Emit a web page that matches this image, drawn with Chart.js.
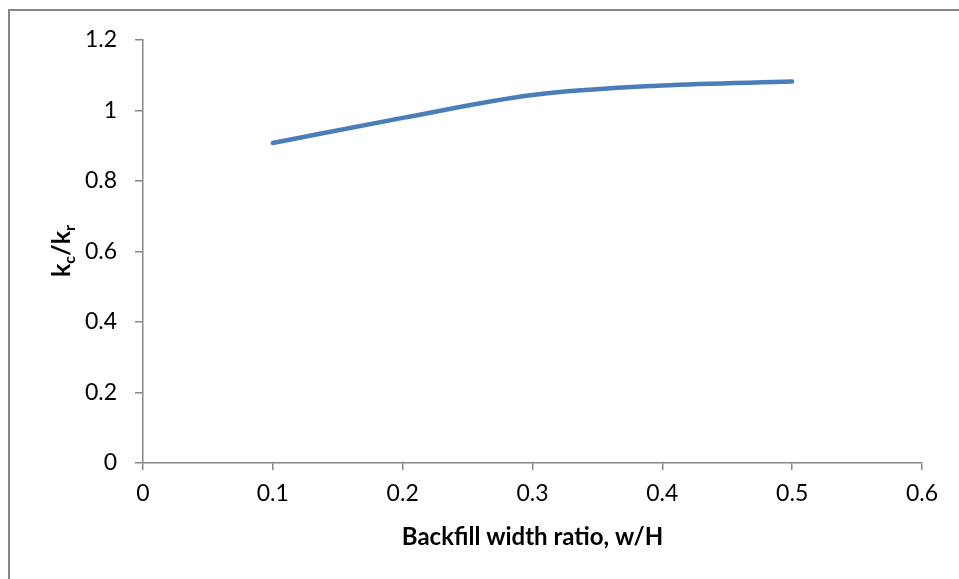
<!DOCTYPE html>
<html>
<head>
<meta charset="utf-8">
<script src="https://cdn.jsdelivr.net/npm/chart.js@4/dist/chart.umd.min.js"></script>
<style>
html,body{margin:0;padding:0;background:#fff;}
#wrap{width:959px;height:579px;position:relative;}
</style>
</head>
<body>
<div id="wrap"><canvas id="c" width="959" height="579"></canvas></div>
<script>
const xValues = [0.1, 0.2, 0.3, 0.4, 0.5];
const yValues = [0.908, 0.979, 1.044, 1.071, 1.082];
const xTitle = "Backfill width ratio, w/H";
const yTitleParts = [["k", false], ["c", true], ["/k", false], ["r", true]];

const FONT = "Lato, 'Open Sans', sans-serif";

const borderPlugin = {
  id: 'outerBorder',
  beforeDraw(chart) {
    const ctx = chart.ctx;
    ctx.save();
    ctx.strokeStyle = '#868686';
    ctx.lineWidth = 2;
    ctx.beginPath();
    ctx.moveTo(9, 1000);
    ctx.lineTo(9, 10);
    ctx.lineTo(1000, 10);
    ctx.stroke();
    ctx.restore();
  },
  afterDraw(chart) {
    const ctx = chart.ctx;
    ctx.save();
    ctx.translate(62, 251);
    ctx.rotate(-Math.PI / 2);
    ctx.fillStyle = '#000';
    ctx.textBaseline = 'alphabetic';
    const big = "bold 25px " + FONT, small = "bold 16px " + FONT;
    let total = 0;
    for (const [t, sub] of yTitleParts) { ctx.font = sub ? small : big; total += ctx.measureText(t).width; }
    let x = -total / 2;
    for (const [t, sub] of yTitleParts) {
      ctx.font = sub ? small : big;
      ctx.fillText(t, x, sub ? 13 : 8);
      x += ctx.measureText(t).width;
    }
    ctx.restore();
  }
};

new Chart(document.getElementById('c'), {
  type: 'scatter',
  data: {
    datasets: [{
      data: xValues.map((x, i) => ({ x: x, y: yValues[i] })),
      showLine: true,
      borderColor: '#4a7ebb',
      borderWidth: 4.5,
      borderCapStyle: 'round',
      pointRadius: 0,
      pointHoverRadius: 0,
      cubicInterpolationMode: 'monotone',
      fill: false
    }]
  },
  options: {
    responsive: false,
    animation: false,
    devicePixelRatio: 1,
    layout: { padding: { left: 0, top: 40, right: 37, bottom: 0 } },
    plugins: { legend: { display: false }, tooltip: { enabled: false } },
    scales: {
      x: {
        type: 'linear', min: 0, max: 0.6,
        afterFit(s) { s.height = 116; },
        border: { color: '#868686', width: 1.5 },
        grid: { drawOnChartArea: false, tickLength: 7, color: '#868686', lineWidth: 1.5 },
        ticks: { stepSize: 0.1, padding: 10, color: '#000', font: { family: FONT, size: 23 },
          callback: v => Math.round(v * 10) / 10 + '' },
        title: { display: true, text: xTitle, color: '#000', font: { family: FONT, size: 24, weight: 'bold' }, padding: { top: 0, bottom: 27 } }
      },
      y: {
        type: 'linear', min: 0, max: 1.2,
        afterFit(s) { s.width = 143; },
        border: { color: '#868686', width: 1.5 },
        grid: { drawOnChartArea: false, tickLength: 8, color: '#868686', lineWidth: 1.5 },
        ticks: { stepSize: 0.2, padding: 18, color: '#000', font: { family: FONT, size: 23 },
          callback: v => Math.round(v * 10) / 10 + '' }
      }
    }
  },
  plugins: [borderPlugin]
});
</script>
</body>
</html>
